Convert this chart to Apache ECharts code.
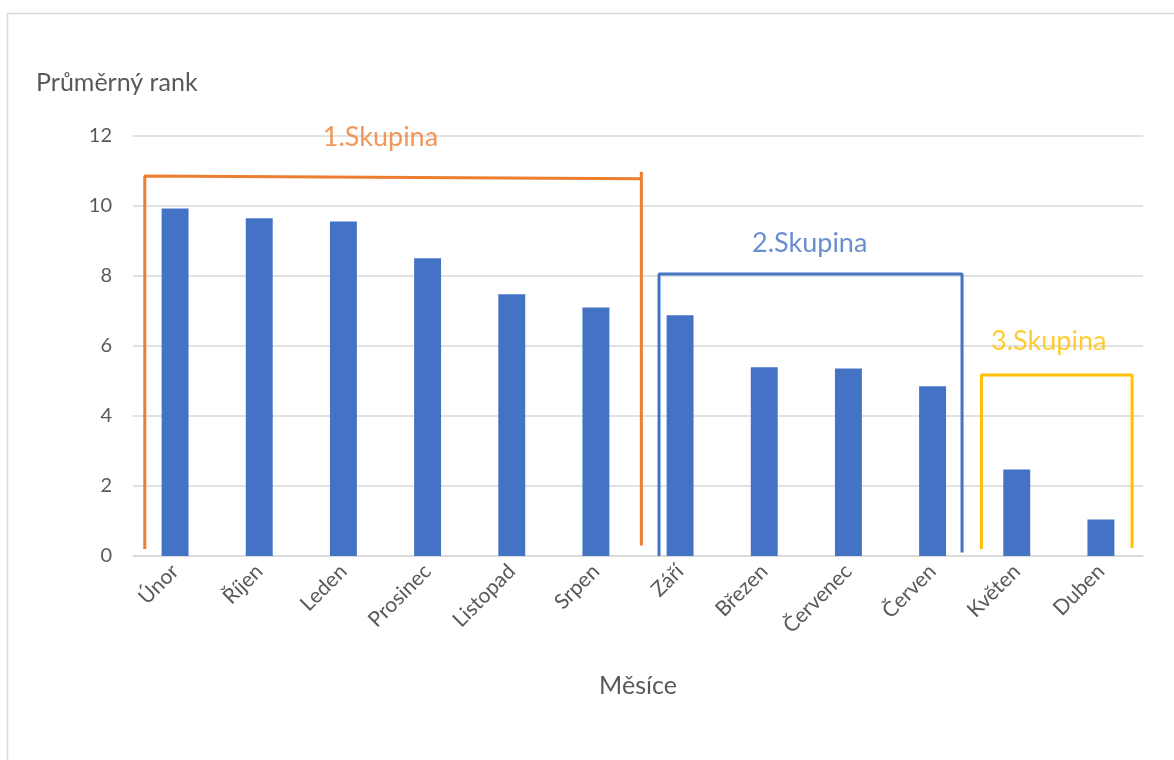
<!DOCTYPE html>
<html>
<head>
<meta charset="utf-8">
<script src="https://cdn.jsdelivr.net/npm/echarts@6/dist/echarts.min.js"></script>
<style>
html,body{margin:0;padding:0;background:#fff;}
#chart{width:1174px;height:760px;}
</style>
</head>
<body>
<div id="chart"></div>
<script>
const categories = ['Únor','Říjen','Leden','Prosinec','Listopad','Srpen','Září','Březen','Červenec','Červen','Květen','Duben'];
const values = [9.93, 9.65, 9.56, 8.51, 7.48, 7.1, 6.88, 5.39, 5.36, 4.85, 2.47, 1.04];
const yTicks = {min: 0, max: 12, interval: 2};

// bracket outlines, in (category position, rank) units
const group1Bracket = [[-0.36, 0.2], [-0.36, 10.86], [5.54, 10.78], [5.54, 10.98], [5.54, 0.3]];
const group2Bracket = [[5.75, 0.0], [5.75, 8.06], [9.35, 8.06], [9.35, 0.1]];
const group3Bracket = [[9.58, 0.2], [9.58, 5.17], [11.37, 5.17], [11.37, 0.23]];
const groupLabels = ['1.Skupina', '2.Skupina', '3.Skupina'];
const groupLabelPos = [[2.44, 11.97], [7.54, 8.94], [10.38, 6.14]];
const groupColors = ['#ED7D31', '#4472C4', '#FFC000'];

const FONT = 'Lato, "Open Sans", sans-serif';
const chart = echarts.init(document.getElementById('chart'));

const brackets = [group1Bracket, group2Bracket, group3Bracket];
const series = [{
  type: 'bar',
  xAxisIndex: 0,
  yAxisIndex: 0,
  data: values,
  barWidth: '32%',
  itemStyle: {color: '#4472C4'},
  silent: true
}];
brackets.forEach((b, i) => {
  series.push({
    type: 'line',
    xAxisIndex: 1,
    yAxisIndex: 0,
    data: b,
    symbol: 'none',
    lineStyle: {color: groupColors[i], width: 3},
    z: 5,
    silent: true
  });
  series.push({
    type: 'scatter',
    xAxisIndex: 1,
    yAxisIndex: 0,
    data: [groupLabelPos[i]],
    symbolSize: 0,
    label: {
      show: true,
      position: 'inside',
      formatter: groupLabels[i],
      color: groupColors[i],
      fontSize: 27,
      fontFamily: FONT
    },
    silent: true
  });
});

chart.setOption({
  animation: false,
  backgroundColor: '#fff',
  title: {
    text: 'Průměrný rank',
    left: 31,
    top: 65,
    textStyle: {color: '#595959', fontSize: 25, fontWeight: 'normal', fontFamily: FONT}
  },
  graphic: [{
    type: 'rect',
    shape: {x: 7.5, y: 13.5, width: 1200, height: 800},
    style: {fill: 'none', stroke: '#d9d9d9', lineWidth: 1.5},
    silent: true
  }],
  grid: {left: 133, right: 31, top: 136, bottom: 204},
  xAxis: [{
    type: 'category',
    data: categories,
    name: 'Měsíce',
    nameLocation: 'middle',
    nameGap: 117,
    nameTextStyle: {color: '#595959', fontSize: 25, fontFamily: FONT},
    axisLine: {lineStyle: {color: '#d9d9d9', width: 1.5}},
    axisTick: {show: false},
    axisLabel: {rotate: 45, color: '#595959', fontSize: 21, fontFamily: FONT, margin: 12, interval: 0}
  }, {
    type: 'value',
    min: -0.5,
    max: 11.5,
    show: false
  }],
  yAxis: [{
    type: 'value',
    min: yTicks.min,
    max: yTicks.max,
    interval: yTicks.interval,
    axisLine: {show: false},
    axisTick: {show: false},
    splitLine: {lineStyle: {color: '#d9d9d9', width: 1.5}},
    axisLabel: {color: '#595959', fontSize: 20, fontFamily: FONT, margin: 21}
  }],
  series: series
});
</script>
</body>
</html>
